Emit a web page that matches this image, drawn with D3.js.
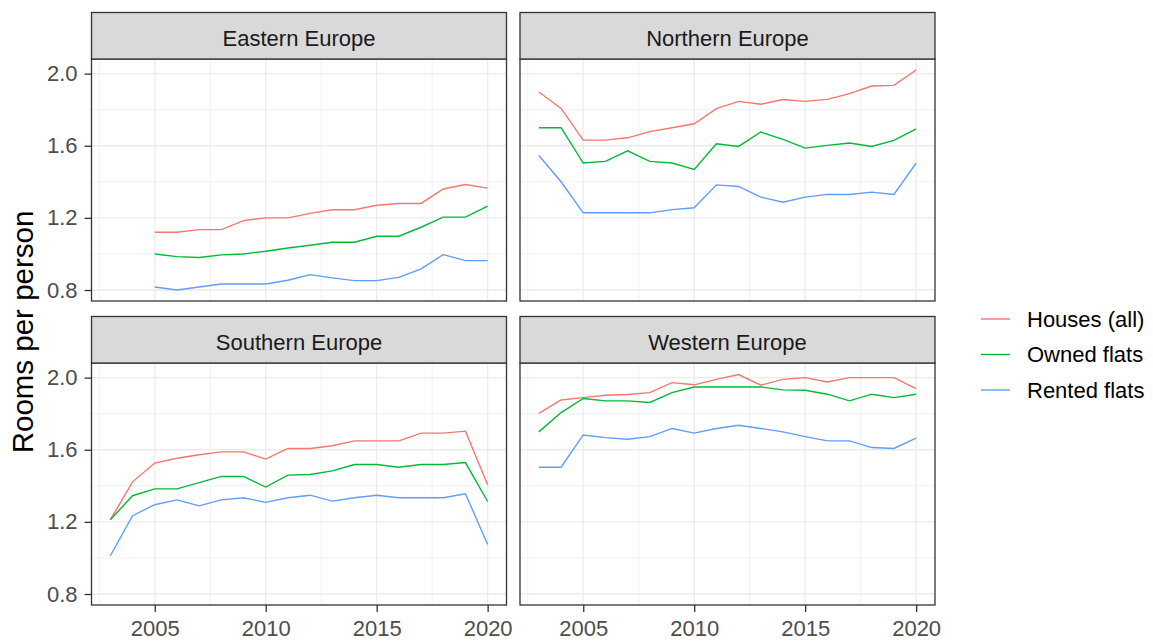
<!DOCTYPE html>
<html>
<head>
<meta charset="utf-8">
<script src="https://cdn.jsdelivr.net/npm/d3@7"></script>
<style>
  html, body { margin: 0; padding: 0; background: #fff; }
  svg { display: block; font-family: "Liberation Sans", Arial, sans-serif; }
</style>
</head>
<body>
<svg id="chart" width="1153" height="642"></svg>
<script>
// years on the x axis (Eastern Europe has no values before 2005)
const years = [2003, 2004, 2005, 2006, 2007, 2008, 2009, 2010, 2011, 2012,
               2013, 2014, 2015, 2016, 2017, 2018, 2019, 2020];
const regions = ["Eastern Europe", "Northern Europe", "Southern Europe", "Western Europe"];
const seriesNames = ["Houses (all)", "Owned flats", "Rented flats"];
const seriesColors = ["#F8766D", "#00BA38", "#619CFF"];
const yTicks = [0.8, 1.2, 1.6, 2.0];
const yMinor = [1.0, 1.4, 1.8];
const xTicks = [2005, 2010, 2015, 2020];
const xMinor = [2002.5, 2007.5, 2012.5, 2017.5];

const easternHouses = [null, null, 1.12, 1.12, 1.135, 1.135, 1.185, 1.20, 1.20, 1.225, 1.245, 1.245, 1.27, 1.28, 1.28, 1.36, 1.385, 1.365];
const easternOwned  = [null, null, 1.00, 0.985, 0.98, 0.995, 1.00, 1.015, 1.033, 1.048, 1.065, 1.065, 1.098, 1.098, 1.148, 1.204, 1.204, 1.265];
const easternRented = [null, null, 0.817, 0.80, 0.817, 0.833, 0.833, 0.833, 0.854, 0.885, 0.867, 0.852, 0.852, 0.87, 0.917, 0.996, 0.963, 0.963];

const northernHouses = [1.898, 1.807, 1.631, 1.631, 1.644, 1.678, 1.70, 1.722, 1.806, 1.846, 1.83, 1.856, 1.846, 1.857, 1.889, 1.931, 1.935, 2.02];
const northernOwned  = [1.70, 1.70, 1.504, 1.513, 1.572, 1.513, 1.504, 1.469, 1.611, 1.596, 1.676, 1.635, 1.587, 1.602, 1.615, 1.596, 1.63, 1.694];
const northernRented = [1.546, 1.40, 1.228, 1.228, 1.228, 1.228, 1.246, 1.256, 1.383, 1.374, 1.315, 1.287, 1.315, 1.33, 1.33, 1.343, 1.33, 1.504];

const southernHouses = [1.212, 1.422, 1.526, 1.553, 1.572, 1.588, 1.588, 1.548, 1.607, 1.607, 1.622, 1.649, 1.649, 1.649, 1.692, 1.692, 1.703, 1.406];
const southernOwned  = [1.212, 1.345, 1.383, 1.383, 1.418, 1.452, 1.452, 1.393, 1.459, 1.463, 1.483, 1.518, 1.518, 1.503, 1.518, 1.518, 1.529, 1.313];
const southernRented = [1.012, 1.234, 1.295, 1.322, 1.289, 1.322, 1.334, 1.308, 1.334, 1.348, 1.315, 1.334, 1.348, 1.334, 1.334, 1.334, 1.356, 1.075];

const westernHouses = [1.802, 1.876, 1.889, 1.902, 1.906, 1.917, 1.972, 1.96, 1.99, 2.017, 1.958, 1.99, 2.0, 1.976, 2.0, 2.0, 2.0, 1.939];
const westernOwned  = [1.699, 1.806, 1.884, 1.871, 1.871, 1.862, 1.917, 1.948, 1.948, 1.948, 1.948, 1.932, 1.93, 1.908, 1.871, 1.908, 1.889, 1.908];
const westernRented = [1.503, 1.503, 1.682, 1.667, 1.658, 1.673, 1.718, 1.692, 1.718, 1.736, 1.718, 1.699, 1.673, 1.649, 1.649, 1.612, 1.607, 1.665];

const panelSeries = [
    [easternHouses, easternOwned, easternRented],
    [northernHouses, northernOwned, northernRented],
    [southernHouses, southernOwned, southernRented],
    [westernHouses, westernOwned, westernRented]
];

// layout (px)
const colX = [91.5, 520];
const panelW = 415;
const rowY = [12.5, 316.5];   // strip tops
const stripH = 46.5;
const panelH = 242;
const fontSize = 22;

const svg = d3.select("#chart");

// shared scales, ggplot style 5% expansion
const allVals = panelSeries.flat(2).filter(v => v != null);
const yMin = d3.min(allVals), yMax = d3.max(allVals);
const yPad = (yMax - yMin) * 0.05;
const xPad = (d3.max(years) - d3.min(years)) * 0.05;

const x = d3.scaleLinear()
    .domain([d3.min(years) - xPad, d3.max(years) + xPad])
    .range([0, panelW]);
const y = d3.scaleLinear()
    .domain([yMin - yPad, yMax + yPad])
    .range([panelH, 0]);

const line = d3.line()
    .defined(d => d[1] != null)
    .x(d => x(d[0]))
    .y(d => y(d[1]));

regions.forEach((region, i) => {
    const col = i % 2, row = Math.floor(i / 2);
    const g = svg.append("g")
        .attr("transform", `translate(${colX[col]},${rowY[row] + stripH})`);

    // background grid
    g.append("rect").attr("width", panelW).attr("height", panelH).attr("fill", "#fff");
    g.selectAll(".ymin").data(yMinor).join("line")
        .attr("x1", 0).attr("x2", panelW)
        .attr("y1", d => y(d)).attr("y2", d => y(d))
        .attr("stroke", "#EBEBEB").attr("stroke-width", 0.7);
    g.selectAll(".xmin").data(xMinor).join("line")
        .attr("y1", 0).attr("y2", panelH)
        .attr("x1", d => x(d)).attr("x2", d => x(d))
        .attr("stroke", "#EBEBEB").attr("stroke-width", 0.7);
    g.selectAll(".ymaj").data(yTicks).join("line")
        .attr("x1", 0).attr("x2", panelW)
        .attr("y1", d => y(d)).attr("y2", d => y(d))
        .attr("stroke", "#EBEBEB").attr("stroke-width", 1.3);
    g.selectAll(".xmaj").data(xTicks).join("line")
        .attr("y1", 0).attr("y2", panelH)
        .attr("x1", d => x(d)).attr("x2", d => x(d))
        .attr("stroke", "#EBEBEB").attr("stroke-width", 1.3);

    // lines
    panelSeries[i].forEach((vals, s) => {
        g.append("path")
            .datum(years.map((yr, k) => [yr, vals[k]]))
            .attr("fill", "none")
            .attr("stroke", seriesColors[s])
            .attr("stroke-width", 1.4)
            .attr("d", line);
    });

    // panel border
    g.append("rect").attr("width", panelW).attr("height", panelH)
        .attr("fill", "none").attr("stroke", "#333333").attr("stroke-width", 1.3);

    // strip
    const strip = svg.append("g")
        .attr("transform", `translate(${colX[col]},${rowY[row]})`);
    strip.append("rect").attr("width", panelW).attr("height", stripH)
        .attr("fill", "#D9D9D9").attr("stroke", "#333333").attr("stroke-width", 1.3);
    strip.append("text")
        .attr("x", panelW / 2).attr("y", 33)
        .attr("text-anchor", "middle")
        .attr("font-size", fontSize)
        .attr("fill", "#1A1A1A")
        .text(region);

    // axes: y on left column, x on bottom row
    if (col === 0) {
        const ya = g.append("g")
            .call(d3.axisLeft(y).tickValues(yTicks).tickFormat(d3.format(".1f"))
                .tickSize(7).tickPadding(7));
        ya.select(".domain").remove();
        ya.selectAll("line").attr("stroke", "#333333").attr("stroke-width", 1.3);
        ya.selectAll("text").attr("font-size", fontSize).attr("fill", "#4D4D4D")
            .attr("font-family", "Liberation Sans, Arial, sans-serif");
    }
    if (row === 1) {
        const xa = g.append("g")
            .attr("transform", `translate(0,${panelH})`)
            .call(d3.axisBottom(x).tickValues(xTicks).tickFormat(d3.format("d"))
                .tickSize(7).tickPadding(8));
        xa.select(".domain").remove();
        xa.selectAll("line").attr("stroke", "#333333").attr("stroke-width", 1.3);
        xa.selectAll("text").attr("font-size", fontSize).attr("fill", "#4D4D4D")
            .attr("font-family", "Liberation Sans, Arial, sans-serif");
    }
});

// y axis title
svg.append("text")
    .attr("transform", "translate(33,332) rotate(-90)")
    .attr("text-anchor", "middle")
    .attr("font-size", 29.5)
    .attr("fill", "#000")
    .text("Rooms per person");

// legend
const legend = svg.append("g").attr("transform", "translate(981,319)");
seriesNames.forEach((name, s) => {
    const row = legend.append("g").attr("transform", `translate(0,${s * 35.5})`);
    row.append("line")
        .attr("x1", 0).attr("x2", 29)
        .attr("stroke", seriesColors[s]).attr("stroke-width", 1.4);
    row.append("text")
        .attr("x", 46).attr("y", 0).attr("dy", "0.36em")
        .attr("font-size", fontSize)
        .attr("fill", "#000")
        .text(name);
});
</script>
</body>
</html>
